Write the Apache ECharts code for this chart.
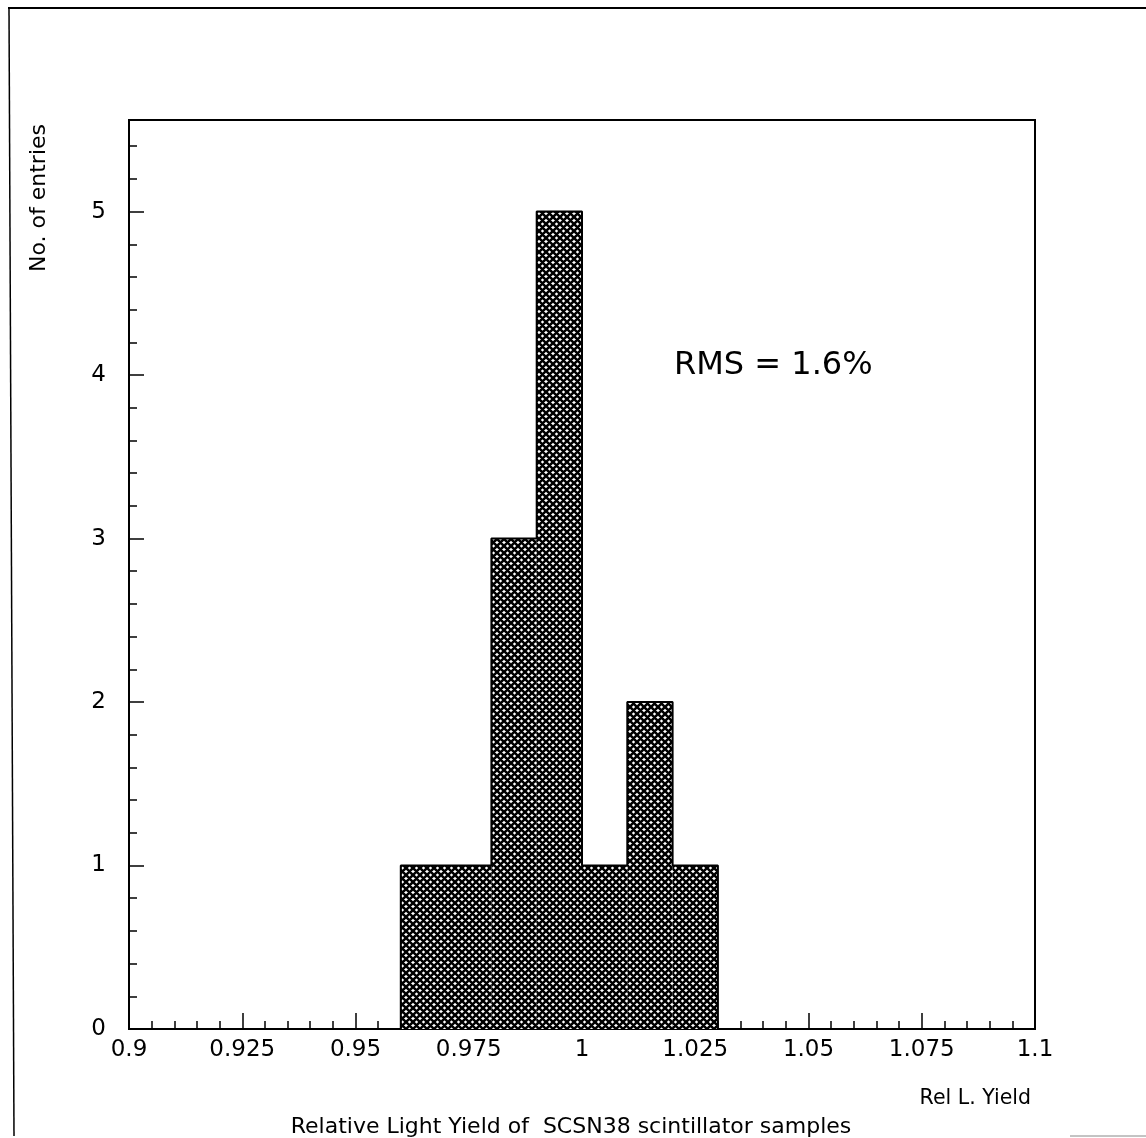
<!DOCTYPE html>
<html>
<head>
<meta charset="utf-8">
<script src="https://cdn.jsdelivr.net/npm/echarts@6/dist/echarts.min.js"></script>
<style>
html,body{margin:0;padding:0;background:#fff;}
#chart{width:1146px;height:1138px;}
</style>
</head>
<body>
<div id="chart"></div>
<script>
// Histogram bins: lower edge, upper edge, entries
var binLow = [0.96, 0.98, 0.99, 1.00, 1.01, 1.02];
var binHigh = [0.98, 0.99, 1.00, 1.01, 1.02, 1.03];
var binCounts = [1, 3, 5, 1, 2, 1];
var xTicks = ['0.9', '0.925', '0.95', '0.975', '1', '1.025', '1.05', '1.075', '1.1'];
var yTicks = ['0', '1', '2', '3', '4', '5'];

var FONT = 'DejaVu Sans';

// crosshatch pattern
var T = 7;
var tile = document.createElement('canvas');
tile.width = T; tile.height = T;
var tc = tile.getContext('2d');
tc.fillStyle = '#fff'; tc.fillRect(0, 0, T, T);
tc.strokeStyle = '#000'; tc.lineWidth = 2.6;
tc.beginPath();
for (var k = -1; k <= 1; k++) {
  tc.moveTo(k * T - 1, -1); tc.lineTo(k * T + T + 1, T + 1);
  tc.moveTo(k * T - 1, T + 1); tc.lineTo(k * T + T + 1, -1);
}
tc.stroke();

var rectData = binLow.map(function (lo, i) { return [lo, binHigh[i], binCounts[i]]; });

// outline of histogram derived from bins
var outline = [[binLow[0], 0]];
for (var i = 0; i < binLow.length; i++) {
  outline.push([binLow[i], binCounts[i]]);
  outline.push([binHigh[i], binCounts[i]]);
}
outline.push([binHigh[binHigh.length - 1], 0]);

var chart = echarts.init(document.getElementById('chart'), null, {renderer: 'canvas'});
var YMAX = 5.56;
chart.setOption({
  animation: false,
  backgroundColor: '#fff',
  grid: {left: 129, right: 111, top: 120, bottom: 109, show: true, borderColor: '#000', borderWidth: 2, backgroundColor: 'transparent'},
  xAxis: [{
    type: 'value', min: 0.9, max: 1.1, interval: 0.025,
    axisLine: {show: true, lineStyle: {color: '#000', width: 2}},
    axisTick: {show: true, inside: true, length: 16, lineStyle: {color: '#000', width: 1.5}},
    minorTick: {show: true, splitNumber: 5, length: 8, lineStyle: {color: '#000', width: 1.5}},
    splitLine: {show: false},
    axisLabel: {color: '#000', fontFamily: FONT, fontSize: 23, margin: 10,
      formatter: function (v) { var idx = Math.round((v - 0.9) / 0.025); return xTicks[idx] !== undefined ? xTicks[idx] : ''; }}
  }],
  yAxis: [{
    type: 'value', min: 0, max: YMAX, interval: 1,
    axisLine: {show: true, lineStyle: {color: '#000', width: 2}},
    axisTick: {show: true, inside: true, length: 15, lineStyle: {color: '#000', width: 1.5}},
    splitLine: {show: false},
    axisLabel: {color: '#000', fontFamily: FONT, fontSize: 23, margin: 23, showMaxLabel: false,
      formatter: function (v) { var idx = Math.round(v); return Math.abs(v - idx) < 1e-6 && yTicks[idx] !== undefined ? yTicks[idx] : ''; }}
  }, {
    type: 'value', min: 0, max: YMAX, interval: 0.2, position: 'left',
    axisLine: {show: false},
    axisTick: {show: true, inside: true, length: 8, lineStyle: {color: '#000', width: 1.5}},
    splitLine: {show: false},
    axisLabel: {show: false}
  }],
  series: [{
    type: 'custom',
    xAxisIndex: 0, yAxisIndex: 0,
    data: rectData,
    encode: {x: [0, 1], y: 2},
    renderItem: function (params, api) {
      var p0 = api.coord([api.value(0), 0]);
      var p1 = api.coord([api.value(1), api.value(2)]);
      return {
        type: 'rect',
        shape: {x: p0[0], y: p1[1], width: p1[0] - p0[0], height: p0[1] - p1[1]},
        style: {fill: {image: tile, repeat: 'repeat'}, stroke: null}
      };
    },
    silent: true
  }, {
    type: 'line',
    xAxisIndex: 0, yAxisIndex: 0,
    data: outline,
    symbol: 'none',
    lineStyle: {color: '#000', width: 2},
    silent: true
  }],
  graphic: [
    {type: 'line', shape: {x1: 8, y1: 8, x2: 1146, y2: 8}, style: {stroke: '#000', lineWidth: 2}},
    {type: 'line', shape: {x1: 9, y1: 8, x2: 14, y2: 1136}, style: {stroke: '#000', lineWidth: 1.5}},
    {type: 'line', shape: {x1: 1070, y1: 1136, x2: 1146, y2: 1136}, style: {stroke: '#888', lineWidth: 1}},
    {type: 'text', x: 39, y: 198, rotation: Math.PI / 2,
      style: {text: 'No. of entries', fontFamily: FONT, fontSize: 22, fill: '#000', align: 'center', verticalAlign: 'middle'}},
    {type: 'text', x: 674, y: 366,
      style: {text: 'RMS = 1.6%', fontFamily: FONT, fontSize: 32, fill: '#000', align: 'left', verticalAlign: 'middle'}},
    {type: 'text', x: 1031, y: 1099,
      style: {text: 'Rel L. Yield', fontFamily: FONT, fontSize: 20.5, fill: '#000', align: 'right', verticalAlign: 'middle'}},
    {type: 'text', x: 571, y: 1127,
      style: {text: 'Relative Light Yield of  SCSN38 scintillator samples', fontFamily: FONT, fontSize: 22, fill: '#000', align: 'center', verticalAlign: 'middle'}}
  ]
});
</script>
</body>
</html>
